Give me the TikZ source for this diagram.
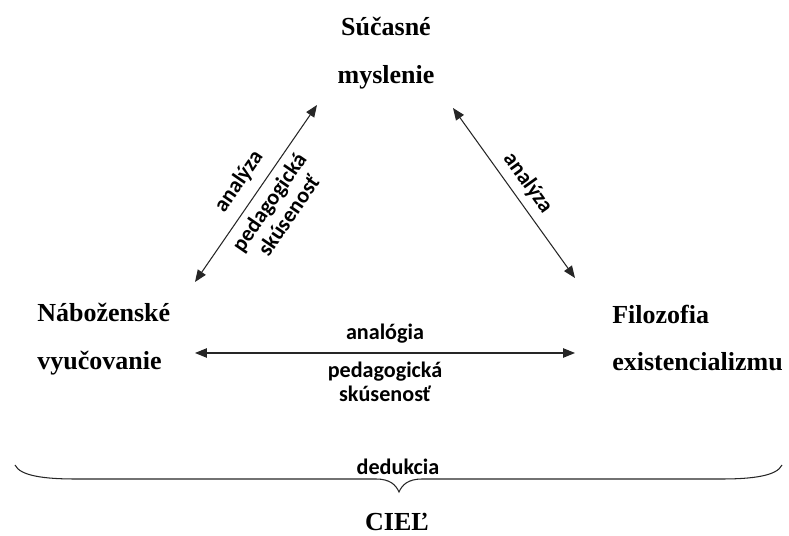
\documentclass[tikz,border=0pt]{standalone}
\usepackage{fontspec}
\setmainfont{Liberation Serif}
\newfontfamily\calibri{Carlito}
\usetikzlibrary{arrows.meta}

\begin{document}
\begin{tikzpicture}[x=0.02cm, y=-0.02cm,
  title/.style={font=\fontsize{14.8}{27}\selectfont\bfseries, inner sep=0pt},
  lbl/.style={font=\calibri\fontsize{12.6}{13.5}\selectfont\bfseries, inner sep=1pt},
  link/.style={{Triangle[length=2.4mm,width=1.9mm]}-{Triangle[length=2.4mm,width=1.9mm]}, line width=0.6pt, draw=black!85}]
\useasboundingbox (0,0) rectangle (789,536);

% the three corners
\node[title, align=center] (think) at (386,53) {Súčasné\\myslenie};
\node[title, align=left, anchor=west] (relig) at (37,339) {Náboženské\\vyučovanie};
\node[title, align=left, anchor=west] (philo) at (612,338) {Filozofia\\existencializmu};

% arrow ends
\coordinate (thinkL) at (317,105);
\coordinate (thinkR) at (453,108);
\coordinate (religT) at (195,282);
\coordinate (religR) at (195,353);
\coordinate (philoT) at (575,278);
\coordinate (philoL) at (575,353);

\draw[link] (religT) -- node[lbl, midway, sloped, above=5pt] {analýza}
  node[lbl, midway, sloped, below=3pt, align=center] {pedagogická\\skúsenosť} (thinkL);
\draw[link] (thinkR) -- node[lbl, midway, sloped, above=3pt] {analýza} (philoT);
\draw[link] (religR) -- node[lbl, midway, above=4pt] {analógia}
  node[lbl, midway, below=4pt, align=center] {pedagogická\\skúsenosť} (philoL);

% brace to the goal
\coordinate (bl) at (15,465);
\coordinate (br) at (782,465);
\coordinate (tip) at (399,492);
\draw[line width=0.6pt, draw=black!85] (bl) .. controls (20,476) and (45,479) .. (75,479) -- (376,479)
  .. controls (390,479) and (396,485) .. (tip)
  .. controls (402,485) and (408,479) .. (422,479) -- (722,479)
  .. controls (752,479) and (777,476) .. (br);
\node[lbl] (deduct) at (398,467) {dedukcia};
\node[title] (goal) at (397,522) {CIEĽ};
\end{tikzpicture}
\end{document}
